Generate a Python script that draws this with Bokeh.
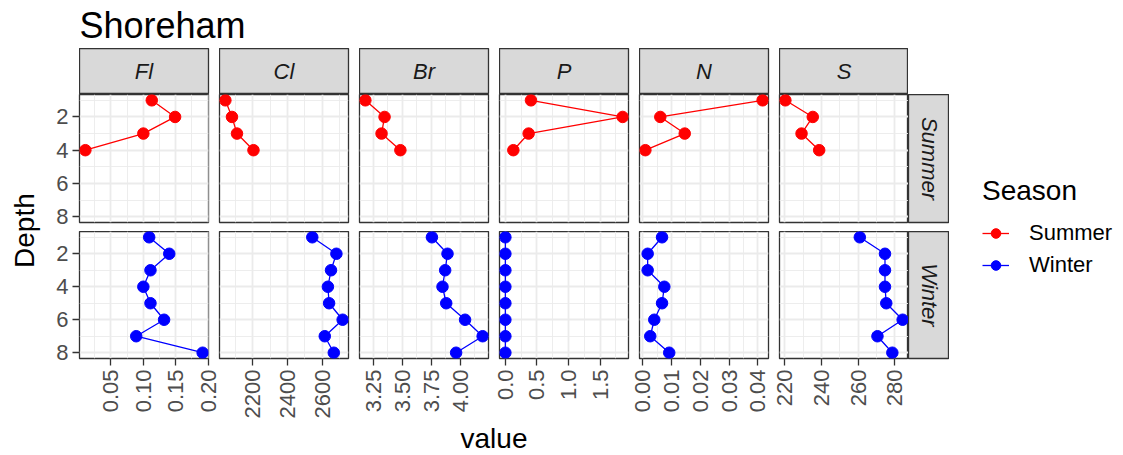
import numpy as np
from bokeh.plotting import figure
from bokeh.layouts import row, column
from bokeh.models import (Range1d, FixedTicker, PrintfTickFormatter, Legend,
                          LegendItem, Spacer)
from bokeh.core.properties import value
from bokeh.embed import file_html
from bokeh.resources import INLINE

FONT = "Liberation Sans"

# ---- data -------------------------------------------------------------
variables = ["Fl", "Cl", "Br", "P", "N", "S"]
seasons = ["Summer", "Winter"]
season_colors = {"Summer": "#FF0000", "Winter": "#0000FF"}

depth_summer = [1, 2, 3, 4]
depth_winter = [1, 2, 3, 4, 5, 6, 7, 8]

fl_summer = [0.113, 0.149, 0.100, 0.0105]
fl_winter = [0.109, 0.140, 0.111, 0.100, 0.111, 0.132, 0.089, 0.1915]
cl_summer = [2042, 2080, 2109, 2204]
cl_winter = [2543, 2682, 2651, 2633, 2640, 2718, 2615, 2667]
br_summer = [3.184, 3.349, 3.323, 3.485]
br_winter = [3.756, 3.890, 3.870, 3.847, 3.879, 4.041, 4.192, 3.964]
p_summer = [0.405, 1.855, 0.368, 0.126]
p_winter = [0.0, 0.0, 0.0, 0.0, 0.0, 0.0, 0.0, 0.0]
n_summer = [0.0417, 0.0061, 0.0146, 0.0009]
n_winter = [0.0067, 0.0017, 0.0017, 0.0075, 0.0067, 0.0040, 0.0026, 0.0092]
s_summer = [220.4, 235.3, 229.2, 238.8]
s_winter = [260.9, 274.6, 274.6, 274.6, 275.3, 284.2, 270.5, 278.6]

series = {
    "Fl": {"Summer": fl_summer, "Winter": fl_winter},
    "Cl": {"Summer": cl_summer, "Winter": cl_winter},
    "Br": {"Summer": br_summer, "Winter": br_winter},
    "P": {"Summer": p_summer, "Winter": p_winter},
    "N": {"Summer": n_summer, "Winter": n_winter},
    "S": {"Summer": s_summer, "Winter": s_winter},
}
depths = {"Summer": depth_summer, "Winter": depth_winter}

# tick breaks per facet column
x_major = {
    "Fl": [0.05, 0.10, 0.15, 0.20],
    "Cl": [2200, 2400, 2600],
    "Br": [3.25, 3.50, 3.75, 4.00],
    "P": [0.0, 0.5, 1.0, 1.5],
    "N": [0.00, 0.01, 0.02, 0.03, 0.04],
    "S": [220, 240, 260, 280],
}
x_minor = {
    "Fl": [0.025, 0.075, 0.125, 0.175],
    "Cl": [2100, 2300, 2500, 2700],
    "Br": [3.125, 3.375, 3.625, 3.875, 4.125],
    "P": [0.25, 0.75, 1.25, 1.75],
    "N": [0.005, 0.015, 0.025, 0.035],
    "S": [230, 250, 270],
}
x_format = {"Fl": "%.2f", "Cl": "%d", "Br": "%.2f", "P": "%.1f",
            "N": "%.2f", "S": "%d"}
y_major = [2, 4, 6, 8]
y_minor = [1, 3, 5, 7]

# ---- sizes ------------------------------------------------------------
FW, FH = 129, 128          # panel frame size
GAP_X, GAP_Y = 11, 9
LEFT_AX = 34               # room for y tick labels
BOTTOM_AX = 62             # room for rotated x tick labels
OVERLAP = 10               # transparent canvas overhang so edge labels are not clipped
DEPTH_W = 45
TITLE_H, STRIP_H = 48, 46
RSTRIP_W = 41
TOTAL_W, TOTAL_H = 1123, 455

GRID = "#EBEBEB"
BORDER = "#333333"
STRIP_FILL = "#D9D9D9"


def expand(vals, frac=0.05):
    lo, hi = min(vals), max(vals)
    pad = (hi - lo) * frac
    return lo - pad, hi + pad


def canvas(w, h, **kw):
    p = figure(width=w, height=h, x_range=Range1d(0, w), y_range=Range1d(0, h),
               toolbar_location=None, output_backend="svg", min_border=0, **kw)
    p.axis.visible = False
    p.grid.visible = False
    p.outline_line_color = None
    return p


def strip(label, w, h, right=0, bottom=0, angle=0.0):
    p = figure(width=w, height=h, x_range=Range1d(0, 1), y_range=Range1d(0, 1),
               toolbar_location=None, output_backend="svg", min_border=0,
               min_border_right=right, min_border_bottom=bottom)
    p.axis.visible = False
    p.grid.visible = False
    p.background_fill_color = STRIP_FILL
    p.outline_line_color = BORDER
    p.outline_line_width = 1.3
    p.text(x=[0.5], y=[0.5], text=[label], angle=angle,
           text_font=value(FONT), text_font_size="22px",
           text_font_style="italic", text_color="#1A1A1A",
           text_align="center", text_baseline="middle")
    return p


depth_lo, depth_hi = expand(depth_winter)


def panel(var, season, ci, ri):
    first = ci == 0
    last = ci == len(variables) - 1
    bottom = ri == 1
    lo, hi = expand(series[var]["Summer"] + series[var]["Winter"])
    ext_l = 0 if first else OVERLAP
    ext_r = 0 if last else OVERLAP
    left = (LEFT_AX if first else 0) + ext_l
    right = (0 if last else GAP_X) + ext_r
    w = FW + left + right
    h = FH + (BOTTOM_AX if bottom else GAP_Y)
    p = figure(width=w, height=h, x_range=Range1d(lo, hi),
               y_range=Range1d(depth_hi, depth_lo),
               toolbar_location=None, output_backend="svg", min_border=0,
               min_border_left=left, min_border_right=right,
               min_border_bottom=BOTTOM_AX if bottom else GAP_Y,
               margin=(0, -ext_r, 0, -ext_l))
    p.background_fill_color = "white"
    p.border_fill_alpha = 0
    p.outline_line_color = BORDER
    p.outline_line_width = 1.3

    xt = FixedTicker(ticks=x_major[var], minor_ticks=x_minor[var])
    yt = FixedTicker(ticks=y_major, minor_ticks=y_minor)
    p.xaxis.ticker = xt
    p.yaxis.ticker = yt
    p.xgrid.ticker = xt
    p.ygrid.ticker = yt
    p.xaxis.formatter = PrintfTickFormatter(format=x_format[var])
    for g in (p.xgrid, p.ygrid):
        g.grid_line_color = GRID
        g.grid_line_width = 1.8
        g.minor_grid_line_color = GRID
        g.minor_grid_line_width = 0.9
    for ax in (p.xaxis, p.yaxis):
        ax.axis_line_color = None
        ax.minor_tick_line_color = None
        ax.major_tick_line_color = BORDER
        ax.major_tick_line_width = 1.3
        ax.major_tick_out = 7
        ax.major_tick_in = 0
        ax.major_label_standoff = 4
        ax.major_label_text_font = FONT
        ax.major_label_text_font_size = "22px"
        ax.major_label_text_color = "#4D4D4D"
    p.xaxis.major_label_orientation = np.pi / 2
    p.xaxis.visible = bottom
    p.yaxis.visible = first

    c = season_colors[season]
    p.line(x=series[var][season], y=depths[season], line_color=c, line_width=1.3)
    p.scatter(x=series[var][season], y=depths[season], size=11.5,
              fill_color=c, line_color=c)
    return p


# ---- header: title and column strips ----------------------------------
title_fig = canvas(TOTAL_W, TITLE_H)
title_fig.text(x=[79], y=[23], text=["Shoreham"], text_font=value(FONT),
               text_font_size="36px", text_color="#000000",
               text_align="left", text_baseline="middle")

top_strips = []
for ci, var in enumerate(variables):
    last = ci == len(variables) - 1
    top_strips.append(strip(var, FW + (0 if last else GAP_X), STRIP_H,
                            right=0 if last else GAP_X))
panels_right = DEPTH_W + LEFT_AX + len(variables) * FW + (len(variables) - 1) * GAP_X
header = column(
    title_fig,
    row(Spacer(width=DEPTH_W + LEFT_AX, height=STRIP_H), *top_strips,
        Spacer(width=TOTAL_W - panels_right, height=STRIP_H)),
)

# ---- panels ------------------------------------------------------------
summer_h = FH + GAP_Y
winter_h = FH + BOTTOM_AX
rows = []
for ri, season in enumerate(seasons):
    figs = [panel(var, season, ci, ri) for ci, var in enumerate(variables)]
    h = summer_h if ri == 0 else winter_h
    figs.append(strip(season, RSTRIP_W, h, bottom=GAP_Y if ri == 0 else BOTTOM_AX,
                      angle=-np.pi / 2))
    rows.append(row(*figs))

body_h = TOTAL_H - TITLE_H - STRIP_H
grid_w = LEFT_AX + len(variables) * FW + (len(variables) - 1) * GAP_X + RSTRIP_W
value_h = body_h - summer_h - winter_h
value_fig = canvas(grid_w, value_h)
panel_mid = LEFT_AX + (len(variables) * FW + (len(variables) - 1) * GAP_X) / 2
value_fig.text(x=[panel_mid], y=[17.5], text=["value"], text_font=value(FONT),
               text_font_size="28px", text_color="#000000",
               text_align="center", text_baseline="middle")

depth_fig = canvas(DEPTH_W, body_h)
depth_fig.text(x=[23.5], y=[290], text=["Depth"],
               angle=np.pi / 2, text_font=value(FONT), text_font_size="28px",
               text_color="#000000", text_align="center",
               text_baseline="middle")

# ---- legend -------------------------------------------------------------
legend_w = TOTAL_W - DEPTH_W - grid_w
legend_fig = figure(width=legend_w, height=body_h, x_range=Range1d(0, 1),
                    y_range=Range1d(0, 1), toolbar_location=None,
                    output_backend="svg", min_border=0, min_border_left=33,
                    min_border_top=81)
legend_fig.axis.visible = False
legend_fig.grid.visible = False
legend_fig.outline_line_color = None
items = []
for season in seasons:
    c = season_colors[season]
    # key glyphs only: NaN positions keep them out of the frame
    r1 = legend_fig.line(x=[np.nan], y=[np.nan], line_color=c, line_width=1.3)
    r2 = legend_fig.scatter(x=[np.nan], y=[np.nan], size=11.5, fill_color=c,
                            line_color=c)
    items.append(LegendItem(label=season, renderers=[r1, r2]))
legend = Legend(items=items, title="Season", location="top_left", margin=0,
                padding=0, spacing=6, glyph_width=27, glyph_height=24,
                label_height=24, label_standoff=20, title_standoff=13,
                border_line_color=None, background_fill_alpha=0,
                title_text_font=FONT, title_text_font_size="28px",
                title_text_font_style="normal", title_text_color="#000000",
                label_text_font=FONT, label_text_font_size="22px",
                label_text_color="#000000")
legend_fig.add_layout(legend)

body = row(depth_fig, column(rows[0], rows[1], value_fig), legend_fig)
page = column(header, body)

open("out.html", "w").write(file_html(page, INLINE))
